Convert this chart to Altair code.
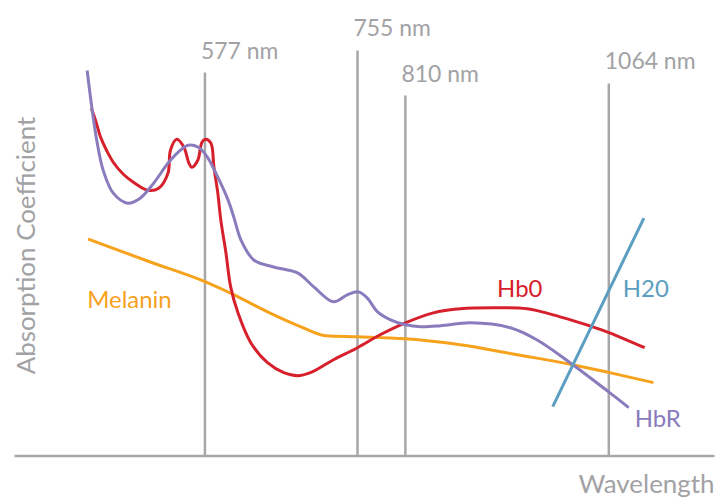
import altair as alt
import pandas as pd

FONT = "Lato"
GREY = "#a7a7aa"
TEXTGREY = "#a2a2a5"
RED = "#d6202b"
PURPLE = "#8a7bbd"
ORANGE = "#f7a21c"
BLUE = "#5b9ec1"

# --- data (wavelength in nm, absorption in arbitrary units) ---
hbr_nm = [437, 443, 449, 456, 468, 485, 500, 516, 533, 545, 557, 569, 580, 592, 604, 611, 619, 634,
          657, 685, 704, 727, 743, 756, 766, 778, 793, 810, 829, 854, 891, 941, 974, 1019, 1065, 1089]
hbr_abs = [96.5, 86.5, 78.25, 71.5, 65.75, 63.25, 64.5, 68.25, 73.25, 76, 77.75, 77.25, 74.75, 69.75,
           64, 59.5, 54, 49, 47.25, 45.75, 42.25, 38.5, 40.25, 41, 39.5, 36, 34, 32.75, 32.25, 32.5,
           33.25, 32, 29, 22.75, 15.75, 12]

hbo_nm = [442, 447, 453, 460, 468, 480, 492, 509, 522, 533, 536, 543.5, 552, 558, 561.5, 568.5,
          573.5, 578, 584, 587.5, 592, 595.5, 601.5, 607, 615.5, 630.5, 650, 669, 685, 700, 727,
          755, 781, 810, 845, 878.5, 919.5, 962, 1003, 1040, 1065, 1109]
hbo_abs = [87, 84, 79.75, 76.5, 73.5, 70.5, 68.5, 66.5, 67, 70.75, 76.5, 79.25, 77.25, 73.25,
           72.25, 74, 78.5, 79.25, 78.25, 72.25, 65.75, 59, 50.75, 42.25, 35.75, 28.25, 23.25,
           20.75, 20, 20.75, 24, 27, 30.25, 33.25, 35.75, 36.75, 37, 36.75, 34.75, 32.5, 30.75, 27]

mel_nm = [438, 512, 572, 611, 650, 689, 718, 755, 810, 878.5, 949.5, 1019, 1065, 1120]
mel_abs = [54.25, 48.5, 44, 40.25, 36, 32.25, 30, 29.75, 29.25, 27.75, 25.25, 22.75, 20.75, 18.25]

h2o_nm = [994, 1108]
h2o_abs = [12.25, 59.5]

ref_nm = [577, 755, 810, 1064]
ref_top = [96, 101.5, 90.25, 93.25]
ref_label = ["577 nm", "755 nm", "810 nm", "1064 nm"]
ref_label_abs = [99.5, 105.25, 93.5, 97]

series_names = ["Melanin", "Hb0", "H20", "HbR"]
series_colors = [ORANGE, RED, BLUE, PURPLE]
series_label_nm = [437, 924.5, 1081.5, 1096.5]
series_label_abs = [37, 39.75, 39.75, 7.25]

# --- scales and axes ---
x_scale = alt.Scale(domain=[350, 577, 755, 810, 1064, 1196],
                    range=[0, 191.5, 344.5, 392.5, 596.5, 702], zero=False, nice=False)
y_scale = alt.Scale(domain=[0, 112], zero=False, nice=False)

x_axis = alt.Axis(title="Wavelength", domain=True, domainColor=GREY, domainWidth=2.5,
                  ticks=False, labels=False, grid=False,
                  titleFont=FONT, titleFontSize=26, titleFontWeight="normal",
                  titleColor=TEXTGREY, titleAlign="right", titleBaseline="alphabetic",
                  titleX=702, titleY=37)
y_axis = alt.Axis(title="Absorption Coefficient", domain=False, ticks=False, labels=False,
                  grid=False, titleFont=FONT, titleFontSize=26, titleFontWeight="normal",
                  titleColor=TEXTGREY, titleAngle=270, titleAlign="center",
                  titleBaseline="alphabetic", titleX=21, titleY=237)


def X(field="nm"):
    return alt.X(f"{field}:Q", scale=x_scale, axis=x_axis)


def Y(field="abs"):
    return alt.Y(f"{field}:Q", scale=y_scale, axis=y_axis)


ref_df = pd.DataFrame({"nm": ref_nm, "top": ref_top, "label": ref_label, "lababs": ref_label_abs})

rules = alt.Chart(ref_df).mark_rule(color=GREY, strokeWidth=2.5).encode(
    x=X(), y=Y("top"), y2=alt.datum(0)
)
ref_text = alt.Chart(ref_df).mark_text(
    align="left", baseline="alphabetic", dx=-4, font=FONT, fontSize=23, color=TEXTGREY
).encode(x=X(), y=Y("lababs"), text="label:N")


def curve(nm, ab, color, interp="catmull-rom"):
    df = pd.DataFrame({"nm": nm, "abs": ab})
    return alt.Chart(df).mark_line(interpolate=interp, strokeWidth=3, color=color).encode(
        x=X(), y=Y()
    )


mel = curve(mel_nm, mel_abs, ORANGE, "monotone")
hbo = curve(hbo_nm, hbo_abs, RED)
hbr = curve(hbr_nm, hbr_abs, PURPLE)
h2o = curve(h2o_nm, h2o_abs, BLUE, "linear")

lab_df = pd.DataFrame({"name": series_names, "nm": series_label_nm, "abs": series_label_abs})
labels = alt.Chart(lab_df).mark_text(
    align="left", baseline="alphabetic", font=FONT, fontSize=24
).encode(
    x=X(), y=Y(), text="name:N",
    color=alt.Color("name:N", scale=alt.Scale(domain=series_names, range=series_colors), legend=None),
)

chart = alt.layer(rules, ref_text, mel, hbo, hbr, h2o, labels).properties(
    width=702, height=448,
    autosize=alt.AutoSizeParams(type="none"),
    padding={"left": 6, "top": 0, "right": 6, "bottom": 42},
    background="white",
).configure_view(stroke=None)

chart.save("out.html", embed_options={"renderer": "svg", "actions": False})
